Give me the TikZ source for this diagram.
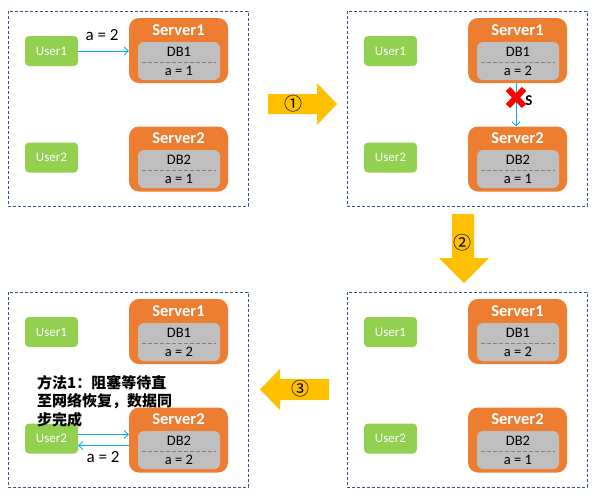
\documentclass[tikz,border=0pt]{standalone}
\usepackage{fontspec}
\setmainfont{Carlito}
\newfontfamily\cjk{Noto Sans CJK SC}
\usetikzlibrary{arrows.meta}
\definecolor{srvorange}{HTML}{ED7D31}
\definecolor{usergreen}{HTML}{92D050}
\definecolor{dbgray}{HTML}{BFBFBF}
\definecolor{panelblue}{HTML}{2F5597}
\definecolor{linkblue}{HTML}{00B0F0}
\definecolor{stepyellow}{HTML}{FFC000}

\tikzset{
  panel/.style={draw=panelblue, dash pattern=on 3pt off 2pt, line width=0.8pt},
  user/.style={fill=usergreen, rounded corners=4pt, minimum width=53pt, minimum height=30pt, inner sep=0pt, text=white, font=\fontsize{13}{15}\selectfont},
  server/.style={fill=srvorange, rounded corners=10pt, minimum width=99pt, minimum height=65pt, inner sep=0pt},
  srvtitle/.style={inner sep=0pt, text=white, font=\bfseries\fontsize{16.5}{19}\selectfont},
  db/.style={fill=dbgray, rounded corners=6pt, minimum width=82pt, minimum height=38pt, inner sep=0pt},
  dbtext/.style={inner sep=0pt, font=\fontsize{14.5}{16}\selectfont},
  dbline/.style={draw=black!50, dash pattern=on 4pt off 2pt, line width=0.6pt},
  link/.style={draw=linkblue, line width=0.8pt, -{Straight Barb[length=4pt,width=8pt]}},
  value/.style={inner sep=0pt, font=\fontsize{17}{19}\selectfont},
  stepnum/.style={inner sep=0pt, font=\cjk\fontsize{18}{20}\selectfont},
}

\begin{document}
\begin{tikzpicture}[x=1pt,y=-1pt]
  \useasboundingbox (0,0) rectangle (595,499);

  % panel 1
  \begin{scope}[shift={(0,0)}]
    \draw[panel] (8,11) rectangle (248,206);
    \node[user] (u1a) at (51.5,51) {User1};
    \node[user] (u2a) at (51.5,157.5) {User2};
    \node[server] (s1a) at (178.5,50.5) {};
    \node[srvtitle] (t1a) at (178.5,30) {Server1};
    \node[db] (d1a) at (179,61) {};
    \node[dbtext] (n1a) at (179,52) {DB1};
    \node[dbtext] (v1a) at (179,71) {a = 1};
    \draw[dbline] (d1a.west |- 0,62) ++(4,0) -- ([xshift=-4pt]d1a.east |- 0,62);
    \node[server] (s2a) at (178.5,159) {};
    \node[srvtitle] (t2a) at (178.5,138) {Server2};
    \node[db] (d2a) at (179,169) {};
    \node[dbtext] (n2a) at (179,160) {DB2};
    \node[dbtext] (v2a) at (179,179) {a = 1};
    \draw[dbline] (d2a.west |- 0,170) ++(4,0) -- ([xshift=-4pt]d2a.east |- 0,170);
    \draw[link] (u1a) -- (u1a -| s1a.west);
    \node[value] (w1a) at (102,35) {a = 2};
  \end{scope}

  % panel 2
  \begin{scope}[shift={(339,0)}]
    \draw[panel] (8,11) rectangle (248,206);
    \node[user] (u1b) at (51.5,51) {User1};
    \node[user] (u2b) at (51.5,157.5) {User2};
    \node[server] (s1b) at (178.5,50.5) {};
    \node[srvtitle] (t1b) at (178.5,30) {Server1};
    \node[db] (d1b) at (179,61) {};
    \node[dbtext] (n1b) at (179,52) {DB1};
    \node[dbtext] (v1b) at (179,71) {a = 2};
    \draw[dbline] (d1b.west |- 0,62) ++(4,0) -- ([xshift=-4pt]d1b.east |- 0,62);
    \node[server] (s2b) at (178.5,159) {};
    \node[srvtitle] (t2b) at (178.5,138) {Server2};
    \node[db] (d2b) at (179,169) {};
    \node[dbtext] (n2b) at (179,160) {DB2};
    \node[dbtext] (v2b) at (179,179) {a = 1};
    \draw[dbline] (d2b.west |- 0,170) ++(4,0) -- ([xshift=-4pt]d2b.east |- 0,170);
    \draw[link] ([xshift=-1.5pt]s1b.south) -- ([xshift=-1.5pt]s2b.north);
    \draw[red, line width=6pt] (169,89) -- (185,106);
    \draw[red, line width=6pt] (169,106) -- (185,89);
    \node[inner sep=0pt, font=\bfseries\fontsize{15}{17}\selectfont] (cut) at (190,101) {S};
  \end{scope}

  % panel 3
  \begin{scope}[shift={(339,281)}]
    \draw[panel] (8,11) rectangle (248,206);
    \node[user] (u1c) at (51.5,51) {User1};
    \node[user] (u2c) at (51.5,157.5) {User2};
    \node[server] (s1c) at (178.5,50.5) {};
    \node[srvtitle] (t1c) at (178.5,30) {Server1};
    \node[db] (d1c) at (179,61) {};
    \node[dbtext] (n1c) at (179,52) {DB1};
    \node[dbtext] (v1c) at (179,71) {a = 2};
    \draw[dbline] (d1c.west |- 0,62) ++(4,0) -- ([xshift=-4pt]d1c.east |- 0,62);
    \node[server] (s2c) at (178.5,159) {};
    \node[srvtitle] (t2c) at (178.5,138) {Server2};
    \node[db] (d2c) at (179,169) {};
    \node[dbtext] (n2c) at (179,160) {DB2};
    \node[dbtext] (v2c) at (179,179) {a = 1};
    \draw[dbline] (d2c.west |- 0,170) ++(4,0) -- ([xshift=-4pt]d2c.east |- 0,170);
  \end{scope}

  % panel 4
  \begin{scope}[shift={(0,281)}]
    \draw[panel] (8,11) rectangle (248,206);
    \node[user] (u1d) at (51.5,51) {User1};
    \node[user] (u2d) at (51.5,157.5) {User2};
    \node[server] (s1d) at (178.5,50.5) {};
    \node[srvtitle] (t1d) at (178.5,30) {Server1};
    \node[db] (d1d) at (179,61) {};
    \node[dbtext] (n1d) at (179,52) {DB1};
    \node[dbtext] (v1d) at (179,71) {a = 2};
    \draw[dbline] (d1d.west |- 0,62) ++(4,0) -- ([xshift=-4pt]d1d.east |- 0,62);
    \node[server] (s2d) at (178.5,159) {};
    \node[srvtitle] (t2d) at (178.5,138) {Server2};
    \node[db] (d2d) at (179,169) {};
    \node[dbtext] (n2d) at (179,160) {DB2};
    \node[dbtext] (v2d) at (179,179) {a = 2};
    \draw[dbline] (d2d.west |- 0,170) ++(4,0) -- ([xshift=-4pt]d2d.east |- 0,170);
    \draw[link] ([yshift=4pt]u2d.east) -- ([yshift=4pt]u2d.east -| s2d.west);
    \draw[link] ([yshift=-7pt]u2d.east -| s2d.west) -- ([yshift=-7pt]u2d.east);
    \node[value] (w2d) at (103,176) {a = 2};
    \node[anchor=north west, inner sep=0pt, align=left, font=\cjk\bfseries\fontsize{15}{18.5}\selectfont] (note) at (37,94)
      {方法1：阻塞等待直\\至网络恢复，数据同\\步完成};
  \end{scope}

  % step arrows
  \fill[stepyellow] (268,94) -- (317,94) -- (317,83) -- (337,104) -- (317,125) -- (317,114) -- (268,114) -- cycle;
  \node[stepnum] (st1) at (293,104) {①};
  \fill[stepyellow] (452,214) -- (452,258) -- (439,258) -- (464,283) -- (489,258) -- (474,258) -- (474,214) -- cycle;
  \node[stepnum] (st2) at (462,243) {②};
  \fill[stepyellow] (329,379) -- (280,379) -- (280,369) -- (260,389.5) -- (280,410) -- (280,400) -- (329,400) -- cycle;
  \node[stepnum] (st3) at (300,389) {③};
\end{tikzpicture}
\end{document}
